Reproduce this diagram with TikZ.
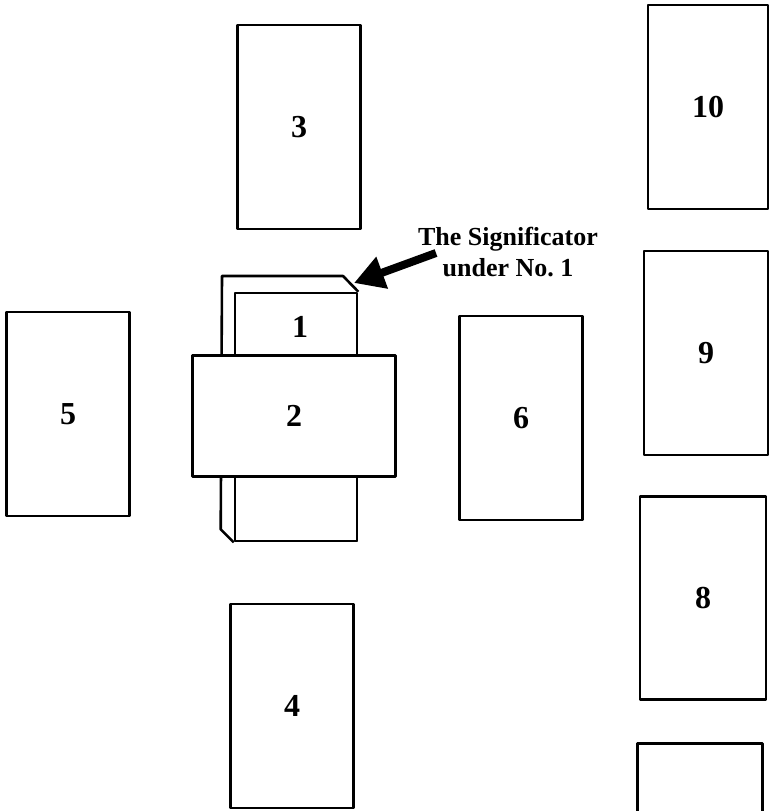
\documentclass[tikz,border=0pt]{standalone}
\usepackage{fontspec}
\setmainfont{Liberation Serif}
\usetikzlibrary{arrows.meta, positioning}

\begin{document}
\begin{tikzpicture}[x=1pt, y=-1pt, line width=2.6pt, line join=round,
    card/.style={draw, fill=white, rectangle, inner sep=0pt,
      minimum width=123pt, minimum height=204pt,
      font=\fontsize{32}{36}\selectfont\bfseries},
    num/.style={font=\fontsize{32}{36}\selectfont\bfseries},
    note/.style={align=center, font=\fontsize{26}{31}\selectfont\bfseries}]
  \useasboundingbox (0,0) rectangle (772,811);
  % significator lying under card 1
  \coordinate (sigtl) at (222,276); \coordinate (sigtr) at (343,276);
  \node[card, minimum width=122pt, minimum height=248pt] (c1) at (296,417) {};
  \draw[fill=white] (c1.south west) -- ++(-13,-13) -- (sigtl) -- (sigtr) -- (c1.north east);
  \node[card, minimum width=122pt, minimum height=248pt] (c1) at (296,417) {};
  \node[num] (n1) at (300,327) {1};
  \node[card, minimum width=203pt, minimum height=121pt] (c2) at (294,416) {2};
  \node[card] (c3) at (299,127) {3};
  \node[card] (c4) at (292,706) {4};
  \node[card] (c5) at (68,414) {5};
  \node[card] (c6) at (521,418) {6};
  \node[card, minimum width=125pt, minimum height=203pt] (c7) at (700,845) {};
  \node[card, minimum width=126pt, minimum height=203pt] (c8) at (703,598) {8};
  \node[card, minimum width=124pt] (c9) at (706,353) {9};
  \node[card, minimum width=120pt] (c10) at (708,107) {10};
  % caption and arrow
  \node[note] (sig) at (508,252) {The Significator\\under No.\ 1};
  \coordinate (tail) at (436,253); \coordinate (tip) at (354,283);
  \draw[line width=8pt, -{Triangle[length=30pt, width=32pt]}] (tail) -- (tip);
\end{tikzpicture}
\end{document}
